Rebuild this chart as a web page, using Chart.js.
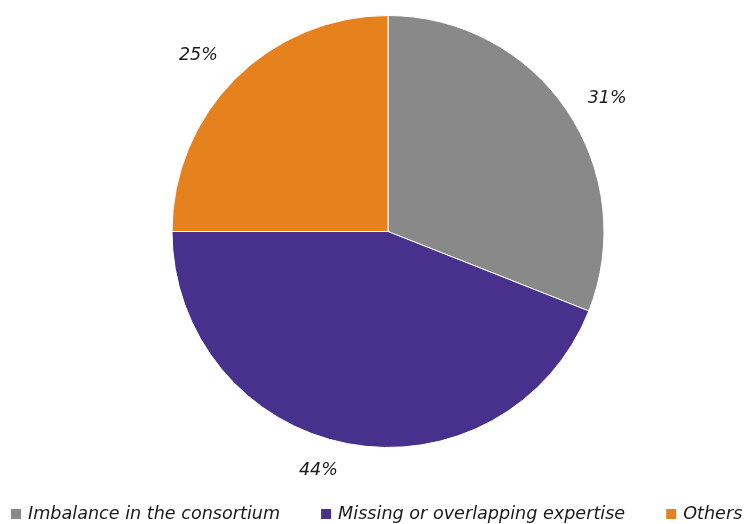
<!DOCTYPE html>
<html lang="en">
<head>
    <meta charset="UTF-8">
    <title>Consortium issues</title>
    <script src="https://cdn.jsdelivr.net/npm/chart.js"></script>
    <style>
        html, body { margin: 0; padding: 0; background: #fff; }
    </style>
</head>
<body>
    <canvas id="issueChart" width="749" height="524"></canvas>

    <script>
        // data
        const categories = ['Imbalance in the consortium', 'Missing or overlapping expertise', 'Others'];
        const shares = [31, 44, 25];
        const sliceColors = ['#898989', '#47318c', '#e5821e'];

        // small shifts so the % labels sit where the layout wants them
        const labelNudge = [[9, 10], [-22, -11], [-10, 4]];

        const FONT = '"DejaVu Sans", sans-serif';
        const TEXT_COLOR = '#1a1a1a';

        // percentage labels outside each slice
        const outsideLabels = {
            id: 'outsideLabels',
            afterDatasetsDraw(chart) {
                const ctx = chart.ctx;
                const meta = chart.getDatasetMeta(0);
                ctx.save();
                ctx.font = 'italic 17.5px ' + FONT;
                ctx.fillStyle = TEXT_COLOR;
                ctx.textAlign = 'center';
                ctx.textBaseline = 'middle';
                meta.data.forEach((arc, i) => {
                    const p = arc.getProps(['x', 'y', 'startAngle', 'endAngle', 'outerRadius'], true);
                    const mid = (p.startAngle + p.endAngle) / 2;
                    const d = p.outerRadius + 38;
                    const lx = p.x + Math.cos(mid) * d + labelNudge[i][0];
                    const ly = p.y + Math.sin(mid) * d + labelNudge[i][1];
                    ctx.fillText(shares[i] + '%', lx, ly);
                });
                ctx.restore();
            }
        };

        // legend row along the bottom edge, left aligned
        const bottomLegend = {
            id: 'bottomLegend',
            afterDraw(chart) {
                const ctx = chart.ctx;
                const ds = chart.data.datasets[0];
                ctx.save();
                ctx.font = 'italic 17.6px ' + FONT;
                ctx.textBaseline = 'middle';
                ctx.textAlign = 'left';
                const y = 514;
                let x = 11;
                chart.data.labels.forEach((label, i) => {
                    ctx.fillStyle = ds.backgroundColor[i];
                    ctx.fillRect(x, y - 5, 10, 10);
                    ctx.fillStyle = TEXT_COLOR;
                    ctx.fillText(label, x + 17, y);
                    x += 17 + ctx.measureText(label).width + 41;
                });
                ctx.restore();
            }
        };

        const ctx = document.getElementById('issueChart').getContext('2d');
        new Chart(ctx, {
            type: 'pie',
            data: {
                labels: categories,
                datasets: [{
                    data: shares,
                    backgroundColor: sliceColors,
                    borderColor: '#ffffff',
                    borderWidth: 1
                }]
            },
            options: {
                responsive: false,
                animation: false,
                layout: { padding: { top: 15, bottom: 76, left: 27, right: 0 } },
                plugins: {
                    tooltip: { enabled: false },
                    legend: { display: false }
                }
            },
            plugins: [outsideLabels, bottomLegend]
        });
    </script>
</body>
</html>
